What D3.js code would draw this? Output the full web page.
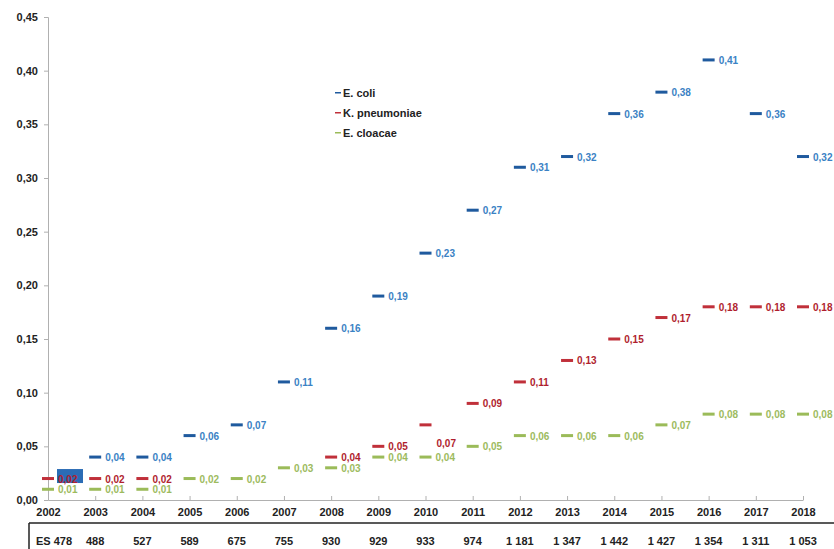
<!DOCTYPE html>
<html><head><meta charset="utf-8">
<script src="https://cdn.jsdelivr.net/npm/d3@7"></script>
<style>
html,body{margin:0;padding:0;background:#fff;}
svg{display:block;font-family:"Liberation Sans",Arial,sans-serif;}
</style></head>
<body><svg id="c" width="834" height="549"></svg>
<script>
const years = [2002,2003,2004,2005,2006,2007,2008,2009,2010,2011,2012,2013,2014,2015,2016,2017,2018];
const ecoli = [null,0.04,0.04,0.06,0.07,0.11,0.16,0.19,0.23,0.27,0.31,0.32,0.36,0.38,0.41,0.36,0.32];
const kpneu = [0.02,0.02,0.02,null,null,null,0.04,0.05,0.07,0.09,0.11,0.13,0.15,0.17,0.18,0.18,0.18];
const ecloa = [0.01,0.01,0.01,0.02,0.02,0.03,0.03,0.04,0.04,0.05,0.06,0.06,0.06,0.07,0.08,0.08,0.08];
const tableVals = ["ES 478","488","527","589","675","755","930","929","933","974","1 181","1 347","1 442","1 427","1 354","1 311","1 053"];
const yTicks = [0,0.05,0.10,0.15,0.20,0.25,0.30,0.35,0.40,0.45];
const seriesNames = ["E. coli","K. pneumoniae","E. cloacae"];

const series = [
  {name:seriesNames[0], vals:ecoli, dash:"#1f5a9e", text:"#3b82c4"},
  {name:seriesNames[1], vals:kpneu, dash:"#c0303a", text:"#b01e2e"},
  {name:seriesNames[2], vals:ecloa, dash:"#9bbb59", text:"#9dbb5e"}
];

const svg = d3.select("#c");
const x = d3.scaleLinear().domain([2002,2018]).range([48,803]);
const y = d3.scaleLinear().domain([0,0.45]).range([500,17]);
const fmt = v => d3.format(".2f")(v).replace(".",",");

// Y axis
const ya = svg.append("g").attr("transform","translate(48,0)")
  .call(d3.axisLeft(y).tickValues(yTicks).tickFormat(fmt).tickSize(4).tickPadding(6));
ya.select(".domain").attr("stroke","#b0b0b0");
ya.selectAll(".tick line").attr("stroke","#b0b0b0");
ya.selectAll("text").attr("font-size",11).attr("font-weight","bold").attr("fill","#222");

// X axis
const xa = svg.append("g").attr("transform","translate(0,500)")
  .call(d3.axisBottom(x).tickValues(years).tickFormat(d3.format("d")).tickSizeInner(-4).tickSizeOuter(0).tickPadding(8));
xa.select(".domain").attr("stroke","#b0b0b0");
xa.selectAll(".tick line").attr("stroke","#b0b0b0");
xa.selectAll("text").attr("font-size",11).attr("font-weight","bold").attr("fill","#222");

// Table below
svg.append("line").attr("x1",29).attr("x2",834).attr("y1",523).attr("y2",523).attr("stroke","#222").attr("stroke-width",1.5);
svg.append("line").attr("x1",29).attr("x2",29).attr("y1",523).attr("y2",549).attr("stroke","#222").attr("stroke-width",1.5);
svg.append("g").selectAll("text").data(tableVals).join("text")
  .attr("x",(d,i)=> i===0 ? x(years[i])+6 : x(years[i]))
  .attr("y",545).attr("text-anchor","middle")
  .attr("font-size",11).attr("font-weight","bold").attr("fill","#222")
  .text(d=>d);

// highlight box (2002 label selection)
svg.append("rect").attr("x",x(2002)+9).attr("y",y(0.02)-9.5).attr("width",26).attr("height",14).attr("fill","#2b6cb5");

// series marks: draw cloacae first, then kpneu, then ecoli
[2,1,0].forEach(si=>{
  const s = series[si];
  const g = svg.append("g");
  const pts = years.map((yr,i)=>({yr,v:s.vals[i]})).filter(d=>d.v!==null);
  g.selectAll("rect").data(pts).join("rect")
    .attr("x",d=>x(d.yr)-6).attr("y",d=>y(d.v)-1.5).attr("width",12).attr("height",3)
    .attr("fill",s.dash);
  g.selectAll("text").data(pts).join("text")
    .attr("x",d=> (si===1 && d.yr===2010) ? x(d.yr)+11 : x(d.yr)+10)
    .attr("y",d=> (si===1 && d.yr===2010) ? y(d.v)+22 : y(d.v)+4)
    .attr("font-size",10).attr("font-weight","bold").attr("fill",s.text)
    .text(d=>fmt(d.v));
});

// Legend
const lg = svg.append("g");
series.forEach((s,i)=>{
  const yy = 93 + i*20;
  lg.append("rect").attr("x",335).attr("y",yy-1).attr("width",6).attr("height",1.5).attr("fill",s.dash);
  lg.append("text").attr("x",343).attr("y",yy+4).attr("font-size",11).attr("font-weight","bold").attr("fill","#222").text(s.name);
});
</script></body></html>
